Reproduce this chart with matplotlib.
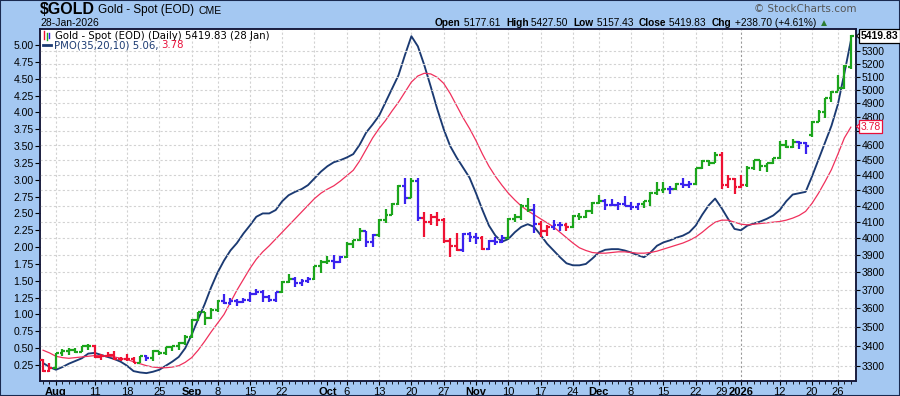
import matplotlib
matplotlib.use('Agg')
import matplotlib.pyplot as plt
from matplotlib.lines import Line2D
from matplotlib.patches import Rectangle, Polygon
from matplotlib.ticker import FixedLocator, NullLocator
import numpy as np
import pandas as pd

# trading days on the chart (US holidays skipped)
holidays = ['2025-09-01', '2025-11-27', '2025-12-25', '2026-01-01', '2026-01-19']
days = pd.bdate_range('2025-07-30', '2026-01-28')
days = days[~days.isin(pd.to_datetime(holidays))]

opens = [3327, 3276,
         3290, 3362, 3373, 3380, 3370, 3397, 3398, 3343, 3348, 3356, 3336, 3336, 3332, 3315, 3348, 3338, 3372, 3365, 3393, 3397, 3416,
         3448, 3533, 3578, 3545, 3587, 3636, 3626, 3640, 3634, 3643, 3679, 3690, 3659, 3644, 3685, 3746, 3763, 3736, 3749, 3760, 3833,
         3858, 3866, 3857, 3886, 3961, 3985, 4040, 3976, 4017, 4110, 4143, 4208, 4326, 4251, 4356, 4125, 4095, 4126, 4112, 3982, 3952, 3930, 4025,
         4003, 4001, 3932, 3980, 3977, 4000, 4115, 4128, 4195, 4171, 4083, 4045, 4066, 4077, 4078, 4065, 4136, 4131, 4164,
         4218, 4231, 4205, 4206, 4208, 4198, 4189, 4208, 4228, 4279, 4300, 4305, 4303, 4340, 4330, 4340, 4445, 4490, 4480, 4533, 4332, 4372,
         4320, 4330, 4447, 4495, 4455, 4478, 4510, 4598, 4588, 4625, 4614, 4670, 4762, 4837, 4937, 4983, 5010, 5177.61]
highs = [3333, 3315,
         3363, 3385, 3390, 3390, 3400, 3410, 3405, 3358, 3370, 3375, 3345, 3358, 3345, 3350, 3352, 3378, 3376, 3395, 3400, 3420, 3455,
         3540, 3580, 3580, 3600, 3645, 3675, 3655, 3650, 3655, 3690, 3705, 3700, 3670, 3690, 3750, 3791, 3770, 3760, 3770, 3835, 3872,
         3895, 3897, 3890, 3975, 3990, 4060, 4045, 4025, 4115, 4180, 4218, 4330, 4380, 4380, 4375, 4160, 4150, 4160, 4120, 4000, 4030, 4030, 4035,
         4030, 4010, 3990, 4005, 4020, 4120, 4145, 4210, 4245, 4210, 4105, 4080, 4110, 4100, 4090, 4140, 4155, 4170, 4225,
         4265, 4240, 4240, 4220, 4260, 4220, 4215, 4230, 4285, 4353, 4350, 4325, 4345, 4375, 4360, 4447, 4497, 4500, 4550, 4550, 4395, 4380,
         4400, 4455, 4500, 4500, 4480, 4515, 4630, 4635, 4640, 4628, 4620, 4767, 4850, 4940, 4990, 5110, 5190, 5427.50]
lows = [3268, 3268,
        3282, 3350, 3355, 3362, 3368, 3377, 3340, 3330, 3344, 3330, 3325, 3325, 3315, 3312, 3325, 3322, 3355, 3352, 3375, 3380, 3405,
        3440, 3530, 3510, 3540, 3580, 3620, 3615, 3610, 3625, 3635, 3670, 3630, 3630, 3630, 3680, 3735, 3717, 3722, 3740, 3755, 3795,
        3845, 3820, 3850, 3880, 3940, 3980, 3945, 3945, 4005, 4090, 4140, 4205, 4210, 4250, 4105, 4005, 4080, 4070, 3970, 3885, 3920, 3915, 3975,
        3965, 3930, 3930, 3960, 3970, 3995, 4100, 4110, 4160, 4030, 4005, 4010, 4050, 4040, 4040, 4060, 4110, 4125, 4150,
        4210, 4170, 4195, 4170, 4195, 4170, 4170, 4185, 4200, 4265, 4280, 4275, 4300, 4310, 4315, 4335, 4440, 4460, 4475, 4305, 4315, 4275,
        4310, 4320, 4430, 4425, 4420, 4470, 4505, 4580, 4580, 4575, 4540, 4660, 4760, 4790, 4910, 4990, 5005, 5157.43]
closes = [3275, 3290,
          3362, 3373, 3380, 3370, 3397, 3398, 3343, 3348, 3356, 3336, 3336, 3332, 3315, 3348, 3338, 3372, 3365, 3393, 3397, 3416, 3448,
          3533, 3578, 3545, 3587, 3636, 3626, 3640, 3634, 3643, 3679, 3690, 3659, 3644, 3685, 3746, 3763, 3736, 3749, 3760, 3833, 3858,
          3866, 3857, 3886, 3961, 3985, 4040, 3976, 4017, 4110, 4143, 4208, 4326, 4251, 4356, 4125, 4095, 4126, 4112, 3982, 3952, 3930, 4025, 4003,
          4001, 3932, 3980, 3977, 4000, 4115, 4128, 4195, 4171, 4083, 4045, 4066, 4077, 4078, 4065, 4136, 4131, 4164, 4218,
          4231, 4205, 4206, 4208, 4198, 4189, 4208, 4228, 4279, 4300, 4305, 4303, 4340, 4330, 4340, 4445, 4490, 4480, 4533, 4332, 4372, 4320,
          4330, 4447, 4495, 4455, 4478, 4510, 4598, 4588, 4625, 4614, 4595, 4762, 4837, 4937, 4983, 5010, 5180, 5419.83]
# bar colour state: G up, R down, B neutral
impulse = ('RR'
           'GGGGGGRRRRRRRGBGGGGGG'
           'GGGGGBBBBBBBBBGGBBBGG'
           'GBBGGGBBGGGGBGBRRRRRRBB'
           'BRBBBGGGGBRRBBRGGGG'
           'GBBBBBBGGGGBGBBGGGGRRR'
           'RGGGGGGGGBBGGGGGGG')

pmo = [0.28, 0.22, 0.18, 0.22, 0.27, 0.31, 0.35, 0.42, 0.43, 0.40,
       0.37, 0.34, 0.30, 0.24, 0.16, 0.14, 0.13, 0.15, 0.18, 0.24,
       0.30, 0.37, 0.50, 0.70, 0.93, 1.15, 1.40, 1.62, 1.80, 1.95,
       2.06, 2.20, 2.32, 2.45, 2.50, 2.50, 2.55, 2.68, 2.77, 2.82,
       2.86, 2.92, 3.02, 3.12, 3.20, 3.26, 3.29, 3.33, 3.38, 3.52,
       3.70, 3.82, 3.95, 4.15, 4.35, 4.55, 4.85, 5.13, 4.98, 4.70,
       4.38, 4.05, 3.75, 3.50, 3.33, 3.18, 3.03, 2.80, 2.55, 2.32,
       2.17, 2.08, 2.12, 2.22, 2.30, 2.34, 2.30, 2.18, 2.05, 1.95,
       1.85, 1.76, 1.73, 1.73, 1.75, 1.83, 1.92, 1.96, 1.97, 1.97,
       1.95, 1.92, 1.88, 1.85, 1.92, 2.02, 2.07, 2.10, 2.14, 2.17,
       2.22, 2.32, 2.48, 2.62, 2.72, 2.58, 2.42, 2.27, 2.25, 2.32,
       2.35, 2.38, 2.42, 2.47, 2.55, 2.68, 2.78, 2.80, 2.82, 3.05,
       3.30, 3.55, 3.80, 4.12, 4.58, 5.06]
pmo_signal = [0.47, 0.43, 0.38, 0.36, 0.35, 0.36, 0.37, 0.38, 0.39, 0.39,
              0.38, 0.37, 0.35, 0.33, 0.30, 0.27, 0.24, 0.22, 0.21, 0.21,
              0.22, 0.24, 0.29, 0.36, 0.47, 0.60, 0.74, 0.87, 1.00, 1.18,
              1.36, 1.52, 1.68, 1.82, 1.93, 2.02, 2.12, 2.22, 2.32, 2.42,
              2.52, 2.62, 2.72, 2.80, 2.86, 2.91, 2.98, 3.06, 3.14, 3.28,
              3.45, 3.62, 3.76, 3.88, 4.02, 4.15, 4.30, 4.45, 4.54, 4.58,
              4.57, 4.52, 4.43, 4.28, 4.10, 3.92, 3.76, 3.58, 3.38, 3.20,
              3.05, 2.92, 2.80, 2.70, 2.61, 2.54, 2.48, 2.42, 2.36, 2.30,
              2.22, 2.14, 2.06, 1.99, 1.95, 1.92, 1.91, 1.91, 1.92, 1.93,
              1.93, 1.92, 1.91, 1.91, 1.92, 1.94, 1.97, 2.00, 2.03, 2.06,
              2.10, 2.15, 2.22, 2.30, 2.37, 2.40, 2.40, 2.37, 2.34, 2.33,
              2.34, 2.35, 2.36, 2.37, 2.38, 2.40, 2.43, 2.47, 2.53, 2.65,
              2.80, 2.97, 3.15, 3.38, 3.62, 3.78]

tick_dates = ['2025-08-01', '2025-08-11', '2025-08-18', '2025-08-25', '2025-09-02', '2025-09-08',
              '2025-09-15', '2025-09-22', '2025-10-01', '2025-10-06', '2025-10-13', '2025-10-20',
              '2025-10-27', '2025-11-03', '2025-11-10', '2025-11-17', '2025-11-24', '2025-12-01',
              '2025-12-08', '2025-12-15', '2025-12-22', '2025-12-29', '2026-01-02', '2026-01-12',
              '2026-01-20', '2026-01-26']
tick_text = ['Aug', '11', '18', '25', 'Sep', '8', '15', '22', 'Oct', '6', '13', '20', '27',
             'Nov', '10', '17', '24', 'Dec', '8', '15', '22', '29', '2026', '12', '20', '26']
price_ticks = list(range(3300, 5400, 100))
pmo_ticks = [0.25, 0.50, 0.75, 1.00, 1.25, 1.50, 1.75, 2.00, 2.25, 2.50,
             2.75, 3.00, 3.25, 3.50, 3.75, 4.00, 4.25, 4.50, 4.75, 5.00]

W, H = 900, 396
BG = '#a4c8f2'
NAVY = '#1b3a72'
SIGRED = '#f0305c'
bar_colors = {'G': '#1ca51c', 'R': '#ee1133', 'B': '#3a22ee'}


def fx(x):
    return x / W


def fy(y):
    return 1 - y / H


fig = plt.figure(figsize=(9, 3.96), dpi=100)
fig.patch.set_facecolor(BG)
ax = fig.add_axes([fx(40), fy(381), (856 - 40) / W, (381 - 29) / H])
ax.set_facecolor('white')
ax2 = ax.twinx()

x = np.arange(len(days))
idx = {d.strftime('%Y-%m-%d'): i for i, d in enumerate(days)}
tick_pos = [idx[d] for d in tick_dates]

# PMO on the left scale
ax.plot(x, pmo, color=NAVY, lw=1.35, zorder=3)
ax.plot(x, pmo_signal, color=SIGRED, lw=0.9, zorder=3)
ax.set_ylim(0.013, 5.237)
ax.set_xlim(-0.47, len(days) - 0.2)
ax.yaxis.set_major_locator(FixedLocator(pmo_ticks))
ax.set_yticklabels(['%.2f' % v for v in pmo_ticks])

# vertical grid (weekly, Oct line sits on the Monday before)
grid_pos = [p if t != 'Oct' else p - 2 for p, t in zip(tick_pos, tick_text)]
for p, t in zip(grid_pos, tick_text):
    c = '#9a9a9a' if t == '2026' else '#d2d2d2'
    ax.axvline(p, color=c, lw=0.8, ls=(0, (2, 2)), zorder=1)

# price bars on the right, log scale
ax2.set_yscale('log')
ax2.set_ylim(3225, 5479)
for pr in price_ticks:
    ax2.axhline(pr, color='#d2d2d2', lw=0.8, ls=(0, (2, 2)), zorder=0)
cols = [bar_colors[c] for c in impulse]
ax2.vlines(x, lows, highs, colors=cols, lw=1.6, zorder=4)
ax2.hlines(opens, x - 0.45, x, colors=cols, lw=1.6, zorder=4)
ax2.hlines(closes, x, x + 0.45, colors=cols, lw=1.6, zorder=4)
ax2.yaxis.set_major_locator(FixedLocator(price_ticks))
ax2.yaxis.set_minor_locator(NullLocator())
# 4700 sits under the PMO signal tag, as on the original
ax2.set_yticklabels([str(p) if p != 4700 else '' for p in price_ticks])

for a in (ax, ax2):
    for s in a.spines.values():
        s.set_color('#15183a')
        s.set_linewidth(1.1)
ax.tick_params(axis='y', direction='out', length=3.5, width=0.8, pad=1, labelsize=7.5)
ax2.tick_params(axis='y', direction='out', length=3, width=0.8, pad=1, labelsize=7.5)
for lab in ax.get_yticklabels() + ax2.get_yticklabels():
    lab.set_family('Liberation Sans')

ax.xaxis.set_major_locator(FixedLocator(tick_pos))
ax.set_xticklabels(tick_text)
ax.xaxis.set_minor_locator(FixedLocator(list(x)))
ax.tick_params(axis='x', which='major', direction='out', length=3, width=0.8, pad=1.2, labelsize=8)
ax.tick_params(axis='x', which='minor', direction='out', length=2, width=0.6)
for lab in ax.get_xticklabels():
    lab.set_family('Liberation Sans')
    if not lab.get_text().isdigit() or lab.get_text() == '2026':
        lab.set_fontweight('bold')

# header
renderer = fig.canvas.get_renderer()


def run_text(x0, y0, parts, size, family='Liberation Sans', gap=0.0):
    for s, weight, color in parts:
        t = fig.text(fx(x0), fy(y0), s, fontsize=size, fontweight=weight, color=color,
                     family=family, ha='left', va='baseline')
        x0 += t.get_window_extent(renderer).width + gap
    return x0


xe = run_text(40, 13.5, [('$GOLD', 'bold', 'black')], 11.5)
xe = run_text(xe + 3, 13.5, [('Gold - Spot (EOD)', 'normal', 'black')], 8.5)
run_text(xe + 4, 13.5, [('CME', 'normal', 'black')], 7.5)
run_text(40, 25.5, [('28-Jan-2026', 'normal', 'black')], 7.5)
fig.text(fx(856), fy(12.5), '\u00a9 StockCharts.com', fontsize=7.5, color='#555555',
         family='DejaVu Sans', ha='right', va='baseline')
run_text(435, 26, [('Open', 'bold', 'black'), (' 5177.61  ', 'normal', 'black'),
                   ('High', 'bold', 'black'), (' 5427.50  ', 'normal', 'black'),
                   ('Low', 'bold', 'black'), (' 5157.43  ', 'normal', 'black'),
                   ('Close', 'bold', 'black'), (' 5419.83  ', 'normal', 'black'),
                   ('Chg', 'bold', 'black'), (' +238.70 (+4.61%) ', 'normal', 'black'),
                   ('\u25b2', 'normal', '#2e7d32')], 7.3)

# legend
for lx, ly0, ly1, c in [(43.5, 31, 39, '#ee1133'), (46.5, 33, 40, '#1ca51c'), (49, 33, 38, '#3a22ee')]:
    fig.add_artist(Line2D([fx(lx), fx(lx)], [fy(ly0), fy(ly1)], color=c, lw=1.0, transform=fig.transFigure))
fig.add_artist(Line2D([fx(43), fx(51)], [fy(44.5), fy(44.5)], color=NAVY, lw=2.0, transform=fig.transFigure))
run_text(55, 39, [('Gold - Spot (EOD) (Daily) 5419.83 (28 Jan)', 'normal', 'black')], 7.3, family='DejaVu Sans')
run_text(53.5, 48, [('PMO(35,20,10) 5.06, ', 'normal', NAVY), ('3.78', 'normal', '#e8103a')], 7.3,
         family='DejaVu Sans')


# last value tags on the right
def value_tag(y, s, color, edge, weight='normal'):
    t = fig.text(fx(860.5), fy(y), s, fontsize=7.5, fontweight=weight, color=color, family='Liberation Sans',
                 ha='left', va='center', bbox=dict(boxstyle='square,pad=0.15', fc='white', ec=edge, lw=0.9))
    fig.add_artist(Polygon([(fx(856.5), fy(y)), (fx(860), fy(y - 3)), (fx(860), fy(y + 3))], closed=True,
                           fc='white', ec=edge, lw=0.8, transform=fig.transFigure))
    return t


value_tag(36, '5419.83', 'black', 'black', 'bold')
value_tag(126.5, '3.78', '#e8103a', '#e8103a')

fig.add_artist(Rectangle((0, 0), 1, 1, transform=fig.transFigure, fill=False, ec='#1a2a50', lw=1.5))

fig.savefig('out.png', dpi=100, facecolor=BG)
